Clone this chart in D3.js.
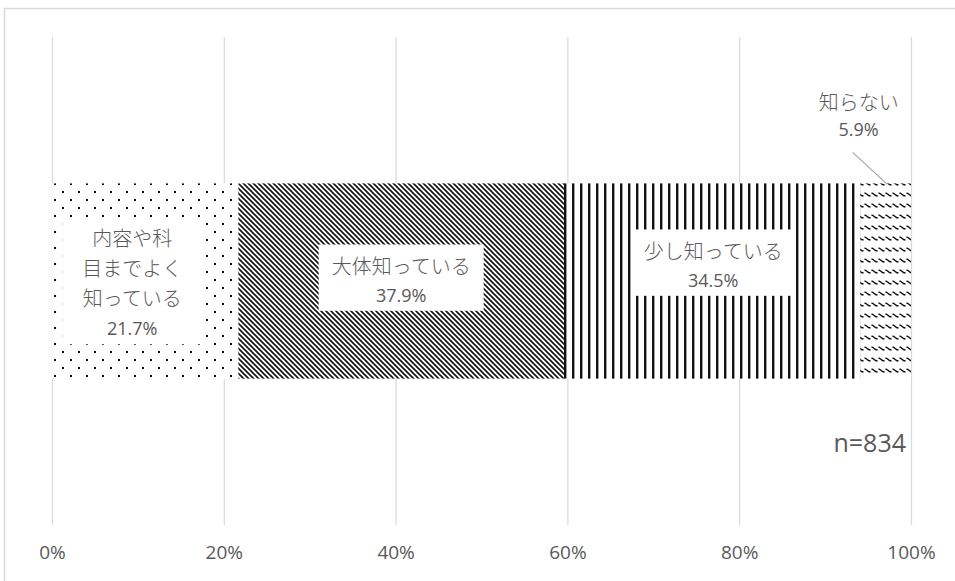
<!DOCTYPE html>
<html>
<head>
<meta charset="utf-8">
<script src="https://cdn.jsdelivr.net/npm/d3@7"></script>
<style>
  html, body { margin: 0; padding: 0; background: #fff; }
  svg { display: block; }
  text { font-family: "Noto Sans CJK JP", "Noto Sans", sans-serif; fill: #595959; }
</style>
</head>
<body>
<svg id="chart" width="955" height="581"></svg>
<script>
const categories = ["内容や科目までよく知っている", "大体知っている", "少し知っている", "知らない"];
const values = [21.7, 37.9, 34.5, 5.9];
const labelLines = [["内容や科", "目までよく", "知っている"], ["大体知っている"], ["少し知っている"], ["知らない"]];
const tickValues = [0, 20, 40, 60, 80, 100];
const sampleNote = "n=834";

const W = 955, H = 581;
const svg = d3.select("#chart");
const margin = { left: 52, right: 44, top: 37, bottom: 56 };
const plotW = W - margin.left - margin.right;
const plotH = H - margin.top - margin.bottom;
const latin = "'Open Sans', 'Noto Sans', sans-serif";

svg.append("rect").attr("x", 4.5).attr("y", 8.5).attr("width", W + 10).attr("height", H + 10)
  .attr("fill", "none").attr("stroke", "#d9d9d9").attr("stroke-width", 1.5);

const defs = svg.append("defs");
const p1 = defs.append("pattern").attr("id", "pat0").attr("patternUnits", "userSpaceOnUse")
  .attr("width", 16).attr("height", 16);
p1.append("rect").attr("width", 16).attr("height", 16).attr("fill", "#fff");
p1.append("rect").attr("x", 2).attr("y", 2).attr("width", 2).attr("height", 2).attr("fill", "#111");
p1.append("rect").attr("x", 10).attr("y", 10).attr("width", 2).attr("height", 2).attr("fill", "#111");
const p2 = defs.append("pattern").attr("id", "pat1").attr("patternUnits", "userSpaceOnUse")
  .attr("width", 5).attr("height", 5);
p2.append("rect").attr("width", 5).attr("height", 5).attr("fill", "#fff");
p2.append("path").attr("d", "M-1,-1 L6,6 M-1,4 L1,6 M4,-1 L6,1").attr("stroke", "#111").attr("stroke-width", 1.6);
const p3 = defs.append("pattern").attr("id", "pat2").attr("patternUnits", "userSpaceOnUse")
  .attr("width", 8).attr("height", 8);
p3.append("rect").attr("width", 8).attr("height", 8).attr("fill", "#fff");
p3.append("rect").attr("x", 0).attr("y", 0).attr("width", 2.4).attr("height", 8).attr("fill", "#111");
const p4 = defs.append("pattern").attr("id", "pat3").attr("patternUnits", "userSpaceOnUse")
  .attr("width", 7).attr("height", 11);
p4.append("rect").attr("width", 7).attr("height", 11).attr("fill", "#fff");
p4.append("path").attr("d", "M0.5,2 L2,2.5 L4.5,4.5 L6.5,5").attr("fill", "none")
  .attr("stroke", "#111").attr("stroke-width", 1.4);

const g = svg.append("g").attr("transform", `translate(${margin.left},${margin.top})`);

const x = d3.scaleLinear().domain([0, 100]).range([0, plotW]);
const y = d3.scaleBand().domain(["all"]).range([0, plotH]).paddingInner(0.6).paddingOuter(0.3);

const grid = g.append("g").call(d3.axisTop(x).tickValues(tickValues).tickSize(-plotH).tickFormat(""));
grid.select(".domain").remove();
grid.selectAll("line").attr("stroke", "#d9d9d9").attr("stroke-width", 1.2);

const ax = g.append("g").attr("transform", `translate(0,${plotH})`)
  .call(d3.axisBottom(x).tickValues(tickValues).tickSize(0).tickPadding(21).tickFormat(d => d + "%"));
ax.select(".domain").remove();
ax.selectAll("text").style("font-size", "19px").attr("fill", "#595959").style("font-family", latin);

let acc = 0;
const segs = values.map((v, i) => { const s = { i, v, x0: acc, x1: acc + v }; acc += v; return s; });

g.selectAll("rect.seg").data(segs).enter().append("rect").attr("class", "seg")
  .attr("x", d => x(d.x0)).attr("width", d => x(d.x1) - x(d.x0))
  .attr("y", y("all")).attr("height", y.bandwidth())
  .attr("fill", d => `url(#pat${d.i})`);

const fs = 20;
const adj = [{ dx: -13, dy: 3, px: 20 }, { dx: 0, dy: 0, px: 13 }, { dx: 1, dy: -15, px: 12 }];
const yMid = y("all") + y.bandwidth() / 2;
segs.forEach(d => {
  const lines = labelLines[d.i].concat([d.v.toFixed(1) + "%"]);
  const isOut = d.i === 3;
  let cx, cy, lineH = 30;
  if (!isOut) {
    cx = x((d.x0 + d.x1) / 2) + adj[d.i].dx;
    cy = yMid + adj[d.i].dy;
    if (d.i !== 0) lineH = 29;
  } else {
    cx = x((d.x0 + d.x1) / 2) - 27;
    cy = y("all") - 67;
    lineH = 27;
  }
  const lg = g.append("g");
  const n = lines.length;
  const t = lg.append("text").attr("text-anchor", "middle");
  lines.forEach((ln, k) => {
    const last = k === n - 1;
    t.append("tspan").attr("x", cx).attr("y", cy + (k - (n - 1) / 2) * lineH).attr("dy", "0.35em")
      .text(ln)
      .style("font-size", (last ? 18 : fs) + "px")
      .style("font-weight", last ? 400 : 300)
      .style("font-family", last ? latin : null);
  });
  if (!isOut) {
    const bb = t.node().getBBox();
    lg.insert("rect", "text")
      .attr("x", bb.x - adj[d.i].px).attr("y", bb.y - 6)
      .attr("width", bb.width + 2 * adj[d.i].px).attr("height", bb.height + 10)
      .attr("fill", "#fff");
  } else {
    g.append("line")
      .attr("x1", cx - 6).attr("y1", cy + 36)
      .attr("x2", x(d.x0) + 27).attr("y2", y("all") + 1)
      .attr("stroke", "#a6a6a6").attr("stroke-width", 1.2);
  }
});

g.append("text").attr("x", x(100) - 5).attr("y", yMid + 171)
  .attr("text-anchor", "end").style("font-size", "25px").style("font-family", latin)
  .text(sampleNote);
</script>
</body>
</html>
